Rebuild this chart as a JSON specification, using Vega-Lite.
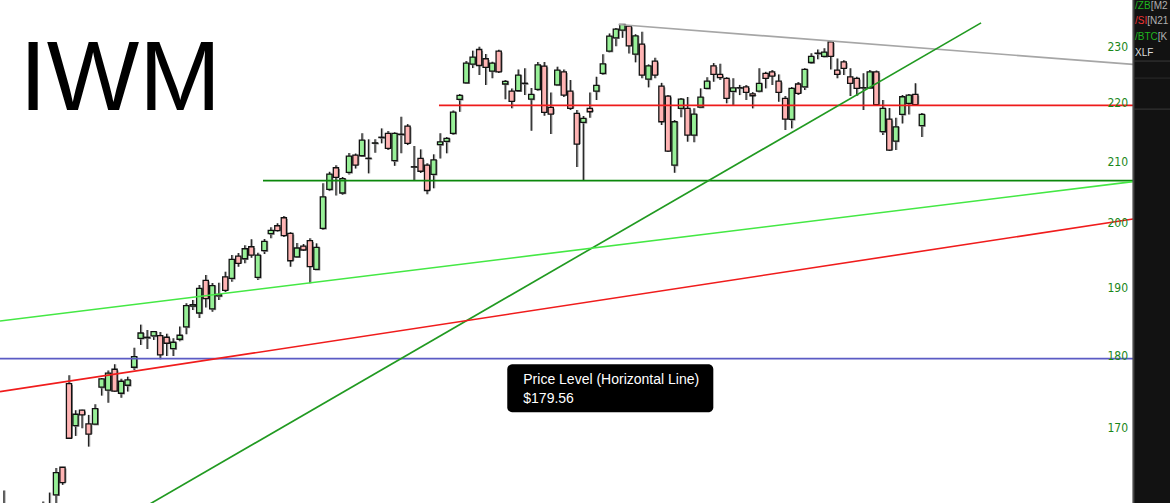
{
  "$schema": "https://vega.github.io/schema/vega-lite/v6.json",
  "width": 1170,
  "height": 503,
  "autosize": {"type": "none"},
  "padding": 0,
  "background": "white",
  "config": {"view": {"stroke": null}},
  "datasets": {
    "candles": [
      {"k": -8, "o": 158.5, "h": 161.7, "l": 157.0, "c": 159.6},
      {"k": -2, "o": 158.3, "h": 160.3, "l": 157.0, "c": 159.4},
      {"k": -1, "o": 158.8, "h": 161.43, "l": 157.5, "c": 159.9},
      {"k": 0, "o": 161.14, "h": 164.62, "l": 159.74, "c": 164.01},
      {"k": 1, "o": 164.71, "h": 164.75, "l": 162.42, "c": 162.71},
      {"k": 2, "o": 176.02, "h": 177.19, "l": 168.46, "c": 168.55},
      {"k": 3, "o": 170.25, "h": 172.34, "l": 168.86, "c": 171.79},
      {"k": 4, "o": 172.34, "h": 172.4, "l": 169.9, "c": 171.7},
      {"k": 5, "o": 170.48, "h": 171.7, "l": 167.43, "c": 169.09},
      {"k": 6, "o": 170.44, "h": 173.16, "l": 170.41, "c": 172.56},
      {"k": 7, "o": 175.52, "h": 176.81, "l": 174.35, "c": 176.67},
      {"k": 8, "o": 175.1, "h": 177.85, "l": 173.38, "c": 177.48},
      {"k": 9, "o": 178.04, "h": 178.75, "l": 174.86, "c": 174.96},
      {"k": 10, "o": 174.68, "h": 176.71, "l": 174.07, "c": 176.35},
      {"k": 11, "o": 175.79, "h": 176.99, "l": 174.91, "c": 176.53},
      {"k": 12, "o": 178.32, "h": 181.12, "l": 177.94, "c": 179.84},
      {"k": 13, "o": 182.47, "h": 184.46, "l": 181.51, "c": 183.24},
      {"k": 14, "o": 182.55, "h": 183.68, "l": 180.93, "c": 182.62},
      {"k": 15, "o": 182.81, "h": 183.53, "l": 182.23, "c": 183.43},
      {"k": 16, "o": 182.85, "h": 183.39, "l": 179.46, "c": 180.07},
      {"k": 17, "o": 182.62, "h": 183.14, "l": 179.93, "c": 181.75},
      {"k": 18, "o": 180.98, "h": 182.48, "l": 179.93, "c": 181.9},
      {"k": 19, "o": 182.33, "h": 184.17, "l": 182.04, "c": 182.91},
      {"k": 20, "o": 184.12, "h": 187.63, "l": 183.06, "c": 187.27},
      {"k": 21, "o": 187.2, "h": 188.1, "l": 186.6, "c": 187.4},
      {"k": 22, "o": 186.17, "h": 190.36, "l": 185.43, "c": 189.86},
      {"k": 23, "o": 191.07, "h": 191.88, "l": 186.99, "c": 188.31},
      {"k": 24, "o": 186.77, "h": 190.66, "l": 186.37, "c": 190.25},
      {"k": 25, "o": 188.71, "h": 190.7, "l": 188.11, "c": 188.95},
      {"k": 26, "o": 191.58, "h": 192.38, "l": 189.3, "c": 189.56},
      {"k": 27, "o": 191.37, "h": 194.93, "l": 190.86, "c": 194.27},
      {"k": 28, "o": 194.78, "h": 195.25, "l": 193.14, "c": 193.66},
      {"k": 29, "o": 194.37, "h": 196.45, "l": 193.66, "c": 195.92},
      {"k": 30, "o": 196.23, "h": 197.39, "l": 194.52, "c": 194.93},
      {"k": 31, "o": 191.52, "h": 195.3, "l": 191.12, "c": 194.93},
      {"k": 32, "o": 195.61, "h": 197.44, "l": 195.09, "c": 197.08},
      {"k": 33, "o": 198.28, "h": 199.29, "l": 197.55, "c": 198.81},
      {"k": 34, "o": 199.53, "h": 199.92, "l": 198.6, "c": 198.77},
      {"k": 35, "o": 200.8, "h": 201.08, "l": 197.74, "c": 197.97},
      {"k": 36, "o": 198.33, "h": 198.5, "l": 193.14, "c": 194.06},
      {"k": 37, "o": 194.67, "h": 196.8, "l": 194.5, "c": 196.03},
      {"k": 38, "o": 196.34, "h": 196.65, "l": 195.6, "c": 195.72},
      {"k": 39, "o": 197.17, "h": 197.55, "l": 190.62, "c": 193.14},
      {"k": 40, "o": 192.74, "h": 196.76, "l": 192.64, "c": 196.14},
      {"k": 41, "o": 199.12, "h": 206.37, "l": 198.85, "c": 204.17},
      {"k": 42, "o": 205.38, "h": 208.26, "l": 205.1, "c": 207.88},
      {"k": 43, "o": 208.93, "h": 209.33, "l": 204.39, "c": 207.35},
      {"k": 44, "o": 204.78, "h": 207.4, "l": 204.5, "c": 207.12},
      {"k": 45, "o": 208.16, "h": 211.4, "l": 207.8, "c": 210.88},
      {"k": 46, "o": 211.05, "h": 211.3, "l": 208.8, "c": 209.36},
      {"k": 47, "o": 210.93, "h": 214.74, "l": 210.71, "c": 213.58},
      {"k": 48, "o": 210.52, "h": 213.7, "l": 208.0, "c": 210.46},
      {"k": 49, "o": 213.04, "h": 213.7, "l": 211.43, "c": 213.1},
      {"k": 50, "o": 214.0, "h": 215.56, "l": 213.02, "c": 214.06},
      {"k": 51, "o": 214.72, "h": 215.1, "l": 211.89, "c": 212.17},
      {"k": 52, "o": 210.1, "h": 214.9, "l": 209.25, "c": 214.72},
      {"k": 53, "o": 214.52, "h": 217.57, "l": 211.34, "c": 214.58},
      {"k": 54, "o": 215.96, "h": 216.3, "l": 212.73, "c": 213.02},
      {"k": 55, "o": 209.1, "h": 212.56, "l": 206.9, "c": 209.04},
      {"k": 56, "o": 210.49, "h": 212.0, "l": 208.07, "c": 208.35},
      {"k": 57, "o": 209.36, "h": 209.69, "l": 204.6, "c": 205.19},
      {"k": 58, "o": 207.85, "h": 211.17, "l": 205.55, "c": 210.23},
      {"k": 59, "o": 212.82, "h": 214.72, "l": 210.49, "c": 213.26},
      {"k": 60, "o": 213.36, "h": 214.08, "l": 211.34, "c": 213.86},
      {"k": 61, "o": 214.72, "h": 218.65, "l": 214.43, "c": 218.37},
      {"k": 62, "o": 220.59, "h": 221.52, "l": 218.42, "c": 221.29},
      {"k": 63, "o": 223.51, "h": 227.4, "l": 223.3, "c": 227.04},
      {"k": 64, "o": 226.86, "h": 229.29, "l": 226.14, "c": 228.13},
      {"k": 65, "o": 229.5, "h": 229.98, "l": 224.88, "c": 226.6},
      {"k": 66, "o": 227.82, "h": 228.67, "l": 223.14, "c": 226.28},
      {"k": 67, "o": 225.6, "h": 227.3, "l": 224.3, "c": 227.04},
      {"k": 68, "o": 229.2, "h": 229.47, "l": 225.25, "c": 225.47},
      {"k": 69, "o": 223.3, "h": 224.0, "l": 220.59, "c": 223.76},
      {"k": 70, "o": 222.04, "h": 222.52, "l": 219.02, "c": 220.24},
      {"k": 71, "o": 222.1, "h": 225.9, "l": 221.9, "c": 224.88},
      {"k": 72, "o": 223.38, "h": 226.1, "l": 221.34, "c": 223.44},
      {"k": 73, "o": 220.64, "h": 222.6, "l": 215.16, "c": 221.46},
      {"k": 74, "o": 222.34, "h": 227.22, "l": 222.04, "c": 226.73},
      {"k": 75, "o": 226.5, "h": 227.22, "l": 217.73, "c": 218.32},
      {"k": 76, "o": 219.19, "h": 221.8, "l": 214.6, "c": 218.02},
      {"k": 77, "o": 223.14, "h": 226.4, "l": 222.97, "c": 225.78},
      {"k": 78, "o": 225.47, "h": 225.9, "l": 221.0, "c": 221.34},
      {"k": 79, "o": 222.04, "h": 223.99, "l": 218.72, "c": 219.02},
      {"k": 80, "o": 218.15, "h": 218.72, "l": 209.07, "c": 212.9},
      {"k": 81, "o": 216.6, "h": 217.7, "l": 206.82, "c": 217.28},
      {"k": 82, "o": 219.02, "h": 221.8, "l": 217.39, "c": 218.43},
      {"k": 83, "o": 222.04, "h": 224.57, "l": 220.47, "c": 223.07},
      {"k": 84, "o": 225.19, "h": 228.62, "l": 224.88, "c": 226.91},
      {"k": 85, "o": 229.2, "h": 232.45, "l": 229.02, "c": 231.95},
      {"k": 86, "o": 231.64, "h": 233.43, "l": 230.1, "c": 233.24},
      {"k": 87, "o": 233.06, "h": 234.17, "l": 231.64, "c": 234.12},
      {"k": 88, "o": 233.8, "h": 233.9, "l": 228.78, "c": 230.17},
      {"k": 89, "o": 228.66, "h": 232.3, "l": 227.17, "c": 232.0},
      {"k": 90, "o": 230.49, "h": 232.74, "l": 224.3, "c": 224.88},
      {"k": 91, "o": 224.17, "h": 226.8, "l": 222.7, "c": 226.55},
      {"k": 92, "o": 227.39, "h": 227.99, "l": 224.3, "c": 224.88},
      {"k": 93, "o": 222.91, "h": 223.5, "l": 216.15, "c": 216.7},
      {"k": 94, "o": 221.17, "h": 221.34, "l": 211.55, "c": 211.72},
      {"k": 95, "o": 209.36, "h": 216.99, "l": 208.1, "c": 216.7},
      {"k": 96, "o": 219.02, "h": 220.81, "l": 217.5, "c": 220.64},
      {"k": 97, "o": 219.02, "h": 221.0, "l": 213.3, "c": 214.43},
      {"k": 98, "o": 214.43, "h": 219.02, "l": 213.2, "c": 218.02},
      {"k": 99, "o": 219.24, "h": 222.52, "l": 219.07, "c": 221.0},
      {"k": 100, "o": 222.52, "h": 224.5, "l": 222.4, "c": 223.81},
      {"k": 101, "o": 226.55, "h": 227.04, "l": 223.7, "c": 225.0},
      {"k": 102, "o": 225.0, "h": 226.91, "l": 224.0, "c": 224.42},
      {"k": 103, "o": 224.3, "h": 224.5, "l": 219.9, "c": 220.77},
      {"k": 104, "o": 221.99, "h": 224.3, "l": 219.55, "c": 222.62},
      {"k": 105, "o": 222.6, "h": 223.14, "l": 221.34, "c": 222.64},
      {"k": 106, "o": 222.8, "h": 223.14, "l": 220.47, "c": 221.81},
      {"k": 107, "o": 221.57, "h": 221.86, "l": 219.02, "c": 221.22},
      {"k": 108, "o": 222.04, "h": 226.1, "l": 221.86, "c": 223.41},
      {"k": 109, "o": 225.19, "h": 225.47, "l": 222.52, "c": 224.3},
      {"k": 110, "o": 225.47, "h": 225.78, "l": 223.14, "c": 224.7},
      {"k": 111, "o": 223.81, "h": 225.0, "l": 220.17, "c": 221.81},
      {"k": 112, "o": 220.77, "h": 221.17, "l": 215.28, "c": 217.16},
      {"k": 113, "o": 217.11, "h": 222.75, "l": 215.57, "c": 222.52},
      {"k": 114, "o": 223.3, "h": 223.64, "l": 221.34, "c": 221.64},
      {"k": 115, "o": 222.8, "h": 226.1, "l": 222.22, "c": 225.9},
      {"k": 116, "o": 227.14, "h": 228.81, "l": 226.9, "c": 228.24},
      {"k": 117, "o": 228.78, "h": 229.5, "l": 227.71, "c": 228.84},
      {"k": 118, "o": 228.24, "h": 229.75, "l": 228.1, "c": 229.02},
      {"k": 119, "o": 230.91, "h": 231.0, "l": 225.9, "c": 228.24},
      {"k": 120, "o": 225.78, "h": 227.86, "l": 224.3, "c": 225.0},
      {"k": 121, "o": 227.26, "h": 227.57, "l": 224.88, "c": 226.1},
      {"k": 122, "o": 224.57, "h": 226.1, "l": 221.17, "c": 223.41},
      {"k": 123, "o": 224.3, "h": 224.57, "l": 221.17, "c": 222.52},
      {"k": 124, "o": 222.6, "h": 225.19, "l": 218.72, "c": 222.64},
      {"k": 125, "o": 222.62, "h": 225.78, "l": 222.48, "c": 225.47},
      {"k": 126, "o": 225.47, "h": 225.7, "l": 219.55, "c": 219.67},
      {"k": 127, "o": 215.0, "h": 220.47, "l": 214.43, "c": 219.02},
      {"k": 128, "o": 217.16, "h": 219.07, "l": 211.72, "c": 211.89},
      {"k": 129, "o": 213.41, "h": 217.39, "l": 211.89, "c": 215.84},
      {"k": 130, "o": 217.97, "h": 221.34, "l": 216.42, "c": 221.05},
      {"k": 131, "o": 219.9, "h": 221.52, "l": 217.97, "c": 221.34},
      {"k": 132, "o": 221.46, "h": 223.41, "l": 219.55, "c": 219.67},
      {"k": 133, "o": 216.04, "h": 218.2, "l": 214.11, "c": 217.97}
    ],
    "lines": [
      {"id": "level", "k": -8.6, "p": 179.56},
      {"id": "level", "k": 165.44, "p": 179.56},
      {"id": "support", "k": 31.8, "p": 206.82},
      {"id": "support", "k": 165.44, "p": 206.82},
      {"id": "mid", "k": 58.83, "p": 219.55},
      {"id": "mid", "k": 165.44, "p": 219.55},
      {"id": "resist", "k": 86.4, "p": 234.1},
      {"id": "resist", "k": 165.44, "p": 226.8},
      {"id": "diag", "k": 6.76, "p": 156.35},
      {"id": "diag", "k": 142.1, "p": 234.4},
      {"id": "lime", "k": -8.6, "p": 185.0},
      {"id": "lime", "k": 165.44, "p": 206.65},
      {"id": "redtrend", "k": -8.6, "p": 174.9},
      {"id": "redtrend", "k": 165.44, "p": 200.6}
    ],
    "one": [{"n": 1}]
  },
  "layer": [
    {
      "data": {"name": "candles"},
      "mark": {"type": "rule", "color": "#aaaaaa", "strokeWidth": 1.5, "xOffset": 1, "clip": true},
      "encoding": {
        "x": {"field": "k", "type": "quantitative", "scale": {"domain": [-8.6, 171.12], "nice": false, "zero": false, "padding": 0}, "axis": null},
        "y": {"field": "l", "type": "quantitative", "scale": {"type": "log", "domain": [160.1, 238.7], "nice": false, "padding": 0}, "axis": {
          "orient": "right", "values": [160, 170, 180, 190, 200, 210, 220, 230], "ticks": false, "tickSize": 0, "domain": false, "grid": false,
          "labelPadding": -63, "labelAlign": "left", "labelBaseline": "middle", "labelColor": "#1a871a",
          "labelFont": "'Liberation Sans Narrow', 'DejaVu Sans Condensed', sans-serif", "labelFontSize": 12,
          "labelBound": false, "labelFlush": false, "labelOverlap": false, "title": null, "zindex": 1}},
        "y2": {"field": "h"}
      }
    },
    {
      "data": {"name": "candles"},
      "mark": {"type": "rule", "color": "#222222", "strokeWidth": 1.3, "clip": true},
      "encoding": {
        "x": {"field": "k", "type": "quantitative"},
        "y": {"field": "l", "type": "quantitative"},
        "y2": {"field": "h"}
      }
    },
    {
      "data": {"name": "candles"},
      "mark": {"type": "bar", "size": 5.5, "fill": "#8a8a8a", "xOffset": 1.2, "yOffset": 1.2, "clip": true},
      "encoding": {
        "x": {"field": "k", "type": "quantitative"},
        "y": {"field": "o", "type": "quantitative"},
        "y2": {"field": "c"}
      }
    },
    {
      "data": {"name": "candles"},
      "mark": {"type": "bar", "size": 5.2, "stroke": "#111111", "strokeWidth": 1.3, "clip": true},
      "encoding": {
        "x": {"field": "k", "type": "quantitative"},
        "y": {"field": "o", "type": "quantitative"},
        "y2": {"field": "c"},
        "fill": {"condition": {"test": "datum.c >= datum.o", "value": "#98f098"}, "value": "#ffb4b4"}
      }
    },
    {
      "data": {"name": "lines"},
      "mark": {"type": "line", "clip": true},
      "encoding": {
        "x": {"field": "k", "type": "quantitative"},
        "y": {"field": "p", "type": "quantitative"},
        "order": {"field": "k", "type": "quantitative"},
        "color": {"field": "id", "type": "nominal", "legend": null, "scale": {
          "domain": ["level", "support", "mid", "resist", "diag", "lime", "redtrend"],
          "range": ["#5b5bc4", "#0b870b", "#ee1a1a", "#a6a6a6", "#219a21", "#44e844", "#f01c1c"]}},
        "strokeWidth": {"field": "id", "type": "ordinal", "legend": null, "scale": {
          "domain": ["level", "support", "mid", "resist", "diag", "lime", "redtrend"],
          "range": [1.8, 1.6, 1.1, 1.3, 1.2, 1.3, 1.3]}}
      }
    },
    {
      "data": {"name": "one"},
      "mark": {"type": "text", "text": "IWM", "font": "Liberation Sans", "fontSize": 98, "color": "#000000", "align": "left", "baseline": "alphabetic"},
      "encoding": {"x": {"datum": -5.6, "type": "quantitative"}, "y": {"datum": 218.72, "type": "quantitative"}}
    },
    {
      "data": {"name": "one"},
      "mark": {"type": "rect", "color": "#000000", "cornerRadius": 5},
      "encoding": {
        "x": {"datum": 69.32, "type": "quantitative"}, "x2": {"datum": 100.97},
        "y": {"datum": 178.75, "type": "quantitative"}, "y2": {"datum": 172.07}
      }
    },
    {
      "data": {"name": "one"},
      "mark": {"type": "text", "text": "Price Level (Horizontal Line)", "font": "Liberation Sans", "fontSize": 14, "color": "#ffffff", "align": "left", "baseline": "alphabetic"},
      "encoding": {"x": {"datum": 71.78, "type": "quantitative"}, "y": {"datum": 175.93, "type": "quantitative"}}
    },
    {
      "data": {"name": "one"},
      "mark": {"type": "text", "text": "$179.56", "font": "Liberation Sans", "fontSize": 14, "color": "#ffffff", "align": "left", "baseline": "alphabetic"},
      "encoding": {"x": {"datum": 71.78, "type": "quantitative"}, "y": {"datum": 173.3, "type": "quantitative"}}
    },
    {
      "data": {"name": "one"},
      "mark": {"type": "rect", "color": "#121212"},
      "encoding": {"x": {"datum": 165.44, "type": "quantitative"}, "x2": {"datum": 172.5}}
    },
    {
      "data": {"name": "one"},
      "mark": {"type": "rule", "color": "#4a4a4a", "strokeWidth": 2},
      "encoding": {"x": {"datum": 165.5, "type": "quantitative"}}
    },
    {
      "data": {"name": "one"},
      "mark": {"type": "rule", "color": "#3a3a3a", "strokeWidth": 1},
      "encoding": {"x": {"datum": 165.6, "type": "quantitative"}, "x2": {"datum": 172.5}, "y": {"datum": 227.4, "type": "quantitative"}}
    },
    {
      "data": {"name": "one"},
      "mark": {"type": "rule", "color": "#2c2c2c", "strokeWidth": 1},
      "encoding": {"x": {"datum": 165.6, "type": "quantitative"}, "x2": {"datum": 172.5}, "y": {"datum": 224.35, "type": "quantitative"}}
    },
    {
      "data": {"name": "one"},
      "mark": {"type": "rule", "color": "#3a3a3a", "strokeWidth": 1},
      "encoding": {"x": {"datum": 165.6, "type": "quantitative"}, "x2": {"datum": 172.5}, "y": {"datum": 218.89, "type": "quantitative"}}
    },
    {
      "data": {"name": "one"},
      "mark": {"type": "text", "text": "/ZB", "font": "Liberation Sans", "fontSize": 10, "color": "#1fb51f", "align": "left", "baseline": "middle"},
      "encoding": {"x": {"datum": 165.75, "type": "quantitative"}, "y": {"datum": 237.54, "type": "quantitative"}}
    },
    {
      "data": {"name": "one"},
      "mark": {"type": "text", "text": "[M2", "font": "Liberation Sans", "fontSize": 10, "color": "#b0b0b0", "align": "left", "baseline": "middle"},
      "encoding": {"x": {"datum": 168.18, "type": "quantitative"}, "y": {"datum": 237.54, "type": "quantitative"}}
    },
    {
      "data": {"name": "one"},
      "mark": {"type": "text", "text": "/SI", "font": "Liberation Sans", "fontSize": 10, "color": "#ee3333", "align": "left", "baseline": "middle"},
      "encoding": {"x": {"datum": 165.75, "type": "quantitative"}, "y": {"datum": 234.73, "type": "quantitative"}}
    },
    {
      "data": {"name": "one"},
      "mark": {"type": "text", "text": "[N21", "font": "Liberation Sans", "fontSize": 10, "color": "#b0b0b0", "align": "left", "baseline": "middle"},
      "encoding": {"x": {"datum": 167.62, "type": "quantitative"}, "y": {"datum": 234.73, "type": "quantitative"}}
    },
    {
      "data": {"name": "one"},
      "mark": {"type": "text", "text": "/BTC", "font": "Liberation Sans", "fontSize": 10, "color": "#1fb51f", "align": "left", "baseline": "middle"},
      "encoding": {"x": {"datum": 165.75, "type": "quantitative"}, "y": {"datum": 231.77, "type": "quantitative"}}
    },
    {
      "data": {"name": "one"},
      "mark": {"type": "text", "text": "[K", "font": "Liberation Sans", "fontSize": 10, "color": "#b0b0b0", "align": "left", "baseline": "middle"},
      "encoding": {"x": {"datum": 169.25, "type": "quantitative"}, "y": {"datum": 231.77, "type": "quantitative"}}
    },
    {
      "data": {"name": "one"},
      "mark": {"type": "text", "text": "XLF", "font": "Liberation Sans", "fontSize": 10, "color": "#dddddd", "align": "left", "baseline": "middle"},
      "encoding": {"x": {"datum": 165.75, "type": "quantitative"}, "y": {"datum": 228.84, "type": "quantitative"}}
    }
  ]
}
